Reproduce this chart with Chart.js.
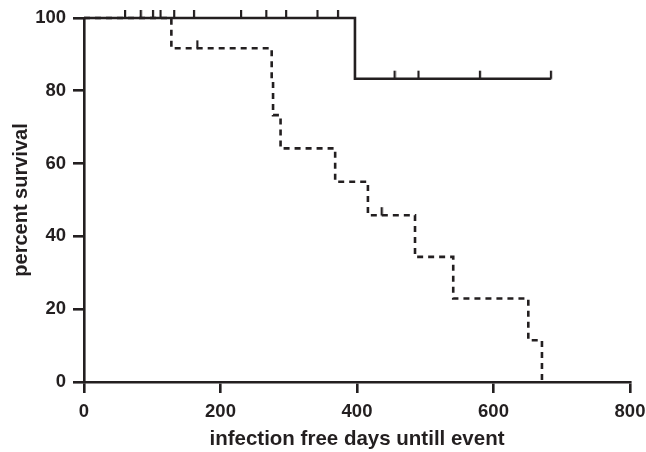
<!DOCTYPE html>
<html>
<head>
<meta charset="utf-8">
<script src="https://cdn.jsdelivr.net/npm/chart.js@4.4.1/dist/chart.umd.min.js"></script>
<style>
  html, body { margin: 0; padding: 0; background: #fff; }
  #wrap { width: 646px; height: 452px; }
</style>
</head>
<body>
<div id="wrap"><canvas id="survivalChart"></canvas></div>
<script>
// Kaplan-Meier curves (days, percent)
const solidTimes = [0, 397, 684];
const solidSurvival = [100, 83.33, 83.33];
const dashedTimes = [0, 128, 275, 277, 288, 368, 416, 485, 541, 651, 671];
const dashedSurvival = [100, 91.67, 82.5, 73.33, 64.17, 55.0, 45.83, 34.38, 22.92, 11.46, 0];

// censored observations (tick marks)
const solidCensorTimes = [60, 83, 101, 112, 132, 161, 230, 267, 296, 342, 372, 455, 490, 580, 684];
const solidCensorSurvival = [100, 100, 100, 100, 100, 100, 100, 100, 100, 100, 100, 83.33, 83.33, 83.33, 83.33];
const dashedCensorTimes = [166, 436];
const dashedCensorSurvival = [91.67, 45.83];

const xTicks = [0, 200, 400, 600, 800];
const yTicks = [0, 20, 40, 60, 80, 100];

const ink = "#231f20";
const fontFamily = "Liberation Sans, Arial, sans-serif";

const toPoints = (xs, ys) => xs.map((x, i) => ({ x: x, y: ys[i] }));

// small upward tick used as the censor marker
const censorMark = (() => {
    const c = document.createElement("canvas");
    c.width = 4;
    c.height = 18;
    const g = c.getContext("2d");
    g.fillStyle = ink;
    g.fillRect(1, 1, 2.2, 8.5);
    return c;
})();

const ctx = document.getElementById("survivalChart").getContext("2d");

new Chart(ctx, {
    type: "line",
    data: {
        datasets: [
            {
                data: toPoints(solidTimes, solidSurvival),
                borderColor: ink,
                borderWidth: 2.6,
                stepped: true,
                pointRadius: 0,
                fill: false
            },
            {
                data: toPoints(dashedTimes, dashedSurvival),
                borderColor: ink,
                borderWidth: 2.6,
                borderDash: [6, 5],
                stepped: true,
                pointRadius: 0,
                fill: false
            },
            {
                data: toPoints(solidCensorTimes, solidCensorSurvival),
                showLine: false,
                pointStyle: censorMark,
                pointRadius: 5
            },
            {
                data: toPoints(dashedCensorTimes, dashedCensorSurvival),
                showLine: false,
                pointStyle: censorMark,
                pointRadius: 5
            }
        ]
    },
    options: {
        responsive: true,
        maintainAspectRatio: false,
        animation: false,
        clip: false,
        layout: { padding: { top: 18, right: 16, left: 0, bottom: 0 } },
        plugins: {
            legend: { display: false },
            tooltip: { enabled: false }
        },
        scales: {
            x: {
                type: "linear",
                min: 0,
                max: 800,
                afterBuildTicks: (scale) => { scale.ticks = xTicks.map(v => ({ value: v })); },
                afterFit: (scale) => {
                    scale.height = 70;
                    scale.paddingLeft = 0;
                    scale.paddingRight = 0;
                },
                border: { display: true, color: ink, width: 2.6 },
                grid: { drawOnChartArea: false, drawTicks: true, tickLength: 11, color: ink, lineWidth: 2.6 },
                ticks: {
                    color: ink,
                    padding: 8,
                    font: { family: fontFamily, size: 18.5, weight: "bold" }
                },
                title: {
                    display: true,
                    text: "infection free days untill event",
                    color: ink,
                    padding: { top: 4, bottom: 0 },
                    font: { family: fontFamily, size: 20.5, weight: "bold" }
                }
            },
            y: {
                type: "linear",
                min: 0,
                max: 100,
                afterBuildTicks: (scale) => { scale.ticks = yTicks.map(v => ({ value: v })); },
                afterFit: (scale) => {
                    scale.width = 84;
                    scale.paddingTop = 0;
                    scale.paddingBottom = 0;
                },
                border: { display: true, color: ink, width: 2.6 },
                grid: { drawOnChartArea: false, drawTicks: true, tickLength: 11, color: ink, lineWidth: 2.6 },
                ticks: {
                    color: ink,
                    padding: 7,
                    font: { family: fontFamily, size: 18.5, weight: "bold" }
                },
                title: {
                    display: true,
                    text: "percent survival",
                    color: ink,
                    padding: { top: 9, bottom: 0 },
                    font: { family: fontFamily, size: 20, weight: "bold" }
                }
            }
        }
    }
});
</script>
</body>
</html>
